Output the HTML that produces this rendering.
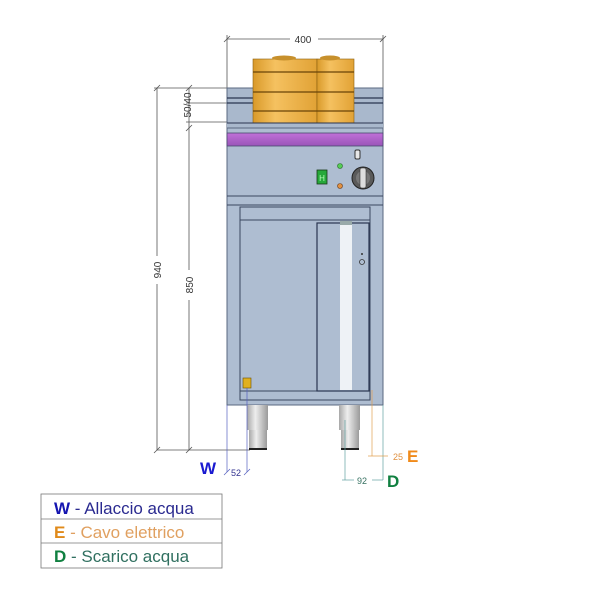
<!DOCTYPE html>
<html><head><style>
html,body{margin:0;padding:0;background:#fff;}
svg{display:block;font-family:"Liberation Sans",sans-serif;}
</style></head><body>
<svg width="600" height="600" viewBox="0 0 600 600" xmlns="http://www.w3.org/2000/svg">
<defs>
<linearGradient id="pot" x1="0" x2="1" y1="0" y2="0">
<stop offset="0" stop-color="#d99a2a"/><stop offset="0.35" stop-color="#f5c160"/><stop offset="1" stop-color="#e1a235"/>
</linearGradient>
<linearGradient id="leg" x1="0" x2="1">
<stop offset="0" stop-color="#a8a8a8"/><stop offset="0.4" stop-color="#eeeeee"/><stop offset="1" stop-color="#9a9a9a"/>
</linearGradient>
<linearGradient id="pur" x1="0" x2="0" y1="0" y2="1">
<stop offset="0" stop-color="#c070d8"/><stop offset="1" stop-color="#9a55b8"/>
</linearGradient>
</defs>
<g stroke="#555" stroke-width="0.8" fill="none">
<line x1="227" y1="39" x2="290" y2="39"/><line x1="318" y1="39" x2="383" y2="39"/>
<line x1="227" y1="35" x2="227" y2="90"/><line x1="383" y1="35" x2="383" y2="90"/>
<line x1="224" y1="42" x2="230" y2="36"/><line x1="380" y1="42" x2="386" y2="36"/>
<line x1="157" y1="88" x2="157" y2="256"/><line x1="157" y1="284" x2="157" y2="450"/>
<line x1="154" y1="88" x2="227" y2="88"/>
<line x1="154" y1="91" x2="160" y2="85"/><line x1="154" y1="453" x2="160" y2="447"/>
<line x1="189" y1="128" x2="189" y2="270"/><line x1="189" y1="300" x2="189" y2="450"/>
<line x1="189" y1="88" x2="189" y2="128"/>
<line x1="186" y1="103" x2="227" y2="103"/><line x1="186" y1="122" x2="227" y2="122"/>
<line x1="186" y1="91" x2="192" y2="85"/><line x1="186" y1="131" x2="192" y2="125"/>
<line x1="186" y1="453" x2="192" y2="447"/>
<line x1="157" y1="450" x2="250" y2="450"/>
</g>
<g font-size="10" fill="#333">
<text x="303" y="43" text-anchor="middle">400</text>
<text transform="translate(161,270) rotate(-90)" text-anchor="middle">940</text>
<text transform="translate(193,285) rotate(-90)" text-anchor="middle">850</text>
<text transform="translate(191,105) rotate(-90)" text-anchor="middle">50/40</text>
</g>
<rect x="227" y="88" width="156" height="40" fill="#a9b8cc" stroke="#5a6880" stroke-width="1"/>
<line x1="227" y1="98" x2="383" y2="98" stroke="#2a3550" stroke-width="1.3"/>
<line x1="227" y1="103" x2="383" y2="103" stroke="#2a3550" stroke-width="1.3"/>
<rect x="253" y="59" width="64" height="65" fill="url(#pot)" stroke="#8a6010" stroke-width="0.6"/>
<rect x="317" y="59" width="37" height="65" fill="url(#pot)" stroke="#8a6010" stroke-width="0.6"/>
<ellipse cx="284" cy="58" rx="12" ry="2.5" fill="#c7902c"/>
<ellipse cx="330" cy="58" rx="10" ry="2.5" fill="#c7902c"/>
<g stroke="#6a4408" stroke-width="1.2">
<line x1="253" y1="72" x2="354" y2="72"/><line x1="253" y1="92" x2="354" y2="92"/><line x1="253" y1="111" x2="354" y2="111"/>
</g>
<rect x="227" y="123" width="156" height="5" fill="#a9b8cc"/>
<line x1="227" y1="123" x2="383" y2="123" stroke="#2a3550" stroke-width="1"/>
<rect x="227" y="128" width="156" height="277" fill="#aebdd1" stroke="#5a6880" stroke-width="1"/>
<rect x="227" y="133" width="156" height="13" fill="url(#pur)" stroke="#4a4a70" stroke-width="0.8"/>
<line x1="227" y1="196" x2="383" y2="196" stroke="#3a4660" stroke-width="1"/>
<line x1="227" y1="205" x2="383" y2="205" stroke="#3a4660" stroke-width="1"/>
<rect x="317" y="170" width="10" height="14" fill="#26a83a" stroke="#1a3a1a" stroke-width="0.8"/>
<text x="322" y="181" font-size="8" fill="#b8ffb8" text-anchor="middle">H</text>
<rect x="355" y="150" width="5" height="9" rx="1.5" fill="#e8e8e8" stroke="#333" stroke-width="1"/>
<circle cx="340" cy="166" r="2.5" fill="#55cc55" stroke="#2a6a2a" stroke-width="0.6"/>
<circle cx="340" cy="186" r="2.5" fill="#e09040" stroke="#6a3a1a" stroke-width="0.6"/>
<circle cx="363" cy="178" r="11" fill="#5a5a5a" stroke="#222" stroke-width="1"/>
<circle cx="363" cy="178" r="7" fill="#777"/>
<rect x="360" y="168" width="6" height="20" rx="2" fill="#ddd" stroke="#333" stroke-width="0.6"/>
<rect x="240" y="207" width="130" height="193" fill="#aebdd1" stroke="#3a4660" stroke-width="1"/>
<line x1="240" y1="220" x2="370" y2="220" stroke="#3a4660" stroke-width="1"/>
<line x1="240" y1="391" x2="370" y2="391" stroke="#3a4660" stroke-width="1"/>
<rect x="317" y="223" width="52" height="168" fill="#aebdd1" stroke="#2a3550" stroke-width="1.2"/>
<rect x="340" y="224" width="12" height="166" fill="#eef2f6"/>
<rect x="340" y="221" width="12" height="4" fill="#9aa"/>
<circle cx="362" cy="262" r="2.5" fill="none" stroke="#333" stroke-width="0.8"/>
<circle cx="362" cy="254" r="1" fill="#333"/>
<rect x="243" y="378" width="8" height="10" fill="#e0b020" stroke="#6a5000" stroke-width="0.6"/>
<rect x="247" y="405" width="21" height="25" fill="url(#leg)"/>
<rect x="249" y="430" width="18" height="19" fill="url(#leg)"/>
<rect x="249" y="448" width="18" height="2" fill="#222"/>
<rect x="339" y="405" width="21" height="25" fill="url(#leg)"/>
<rect x="341" y="430" width="18" height="19" fill="url(#leg)"/>
<rect x="341" y="448" width="18" height="2" fill="#222"/>
<g stroke-width="0.7" fill="none">
<line x1="227" y1="405" x2="227" y2="472" stroke="#5560c0"/>
<line x1="247" y1="388" x2="247" y2="472" stroke="#5560c0"/>
<line x1="224" y1="475" x2="230" y2="469" stroke="#5560c0"/><line x1="244" y1="475" x2="250" y2="469" stroke="#5560c0"/>
<line x1="372" y1="390" x2="372" y2="456" stroke="#e0a050"/>
<line x1="383" y1="405" x2="383" y2="480" stroke="#60a0a0"/>
<line x1="345" y1="420" x2="345" y2="480" stroke="#60a0a0"/>
<line x1="368" y1="456" x2="388" y2="456" stroke="#e0a050"/>
<line x1="342" y1="480" x2="354" y2="480" stroke="#60a0a0"/><line x1="372" y1="480" x2="383" y2="480" stroke="#60a0a0"/>
</g>
<text x="200" y="474" font-size="17" font-weight="bold" fill="#1a1ad0">W</text>
<text x="231" y="476" font-size="9" fill="#333390">52</text>
<text x="393" y="460" font-size="9" fill="#e09040">25</text>
<text x="407" y="462" font-size="17" font-weight="bold" fill="#f08a1a">E</text>
<text x="357" y="484" font-size="9" fill="#357060">92</text>
<text x="387" y="487" font-size="17" font-weight="bold" fill="#108040">D</text>
<g stroke="#777" stroke-width="0.8" fill="none">
<rect x="41" y="494" width="181" height="74"/>
<line x1="41" y1="519" x2="222" y2="519"/><line x1="41" y1="543" x2="222" y2="543"/>
</g>
<g font-size="17" font-family="'Liberation Sans',sans-serif">
<text x="54" y="514"><tspan font-weight="bold" fill="#1515b0">W</tspan><tspan fill="#2a2a90"> - Allaccio acqua</tspan></text>
<text x="54" y="538"><tspan font-weight="bold" fill="#e08a1a">E</tspan><tspan fill="#e0a060"> - Cavo elettrico</tspan></text>
<text x="54" y="562"><tspan font-weight="bold" fill="#108040">D</tspan><tspan fill="#307060"> - Scarico acqua</tspan></text>
</g>
</svg>
</body></html>
